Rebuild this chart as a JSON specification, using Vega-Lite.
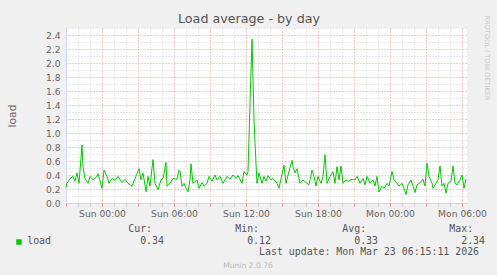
{
  "$schema": "https://vega.github.io/schema/vega-lite/v6.json",
  "width": 401,
  "height": 175,
  "autosize": {"type": "none"},
  "padding": {"left": 66, "top": 28, "right": 30, "bottom": 72},
  "background": "#F0F0F0",
  "title": {"text": "Munin 2.0.76", "orient": "bottom", "anchor": "middle", "frame": "group", "dx": -18.5, "offset": 6, "baseline": "top", "fontSize": 7.6, "font": "DejaVu Sans", "fontWeight": "normal", "color": "#BBBBBB"},
  "data": {"values": [
    {"t": "2026-03-21T21:00:00", "v": 0.22},
    {"t": "2026-03-21T21:05:00", "v": 0.28},
    {"t": "2026-03-21T21:20:00", "v": 0.35},
    {"t": "2026-03-21T21:35:00", "v": 0.38},
    {"t": "2026-03-21T21:45:00", "v": 0.31},
    {"t": "2026-03-21T21:55:00", "v": 0.43},
    {"t": "2026-03-21T22:05:00", "v": 0.28},
    {"t": "2026-03-21T22:20:00", "v": 0.83},
    {"t": "2026-03-21T22:25:00", "v": 0.52},
    {"t": "2026-03-21T22:35:00", "v": 0.35},
    {"t": "2026-03-21T22:50:00", "v": 0.28},
    {"t": "2026-03-21T23:00:00", "v": 0.38},
    {"t": "2026-03-21T23:15:00", "v": 0.33},
    {"t": "2026-03-21T23:35:00", "v": 0.38},
    {"t": "2026-03-21T23:40:00", "v": 0.42},
    {"t": "2026-03-22T00:00:00", "v": 0.21},
    {"t": "2026-03-22T00:10:00", "v": 0.47},
    {"t": "2026-03-22T00:25:00", "v": 0.38},
    {"t": "2026-03-22T00:35:00", "v": 0.28},
    {"t": "2026-03-22T00:50:00", "v": 0.35},
    {"t": "2026-03-22T01:05:00", "v": 0.32},
    {"t": "2026-03-22T01:20:00", "v": 0.38},
    {"t": "2026-03-22T01:40:00", "v": 0.29},
    {"t": "2026-03-22T01:55:00", "v": 0.34},
    {"t": "2026-03-22T02:10:00", "v": 0.28},
    {"t": "2026-03-22T02:30:00", "v": 0.24},
    {"t": "2026-03-22T02:45:00", "v": 0.35},
    {"t": "2026-03-22T02:55:00", "v": 0.42},
    {"t": "2026-03-22T03:05:00", "v": 0.49},
    {"t": "2026-03-22T03:15:00", "v": 0.33},
    {"t": "2026-03-22T03:25:00", "v": 0.43},
    {"t": "2026-03-22T03:40:00", "v": 0.16},
    {"t": "2026-03-22T03:50:00", "v": 0.38},
    {"t": "2026-03-22T04:00:00", "v": 0.24},
    {"t": "2026-03-22T04:15:00", "v": 0.62},
    {"t": "2026-03-22T04:25:00", "v": 0.28},
    {"t": "2026-03-22T04:40:00", "v": 0.19},
    {"t": "2026-03-22T04:55:00", "v": 0.33},
    {"t": "2026-03-22T05:05:00", "v": 0.35},
    {"t": "2026-03-22T05:20:00", "v": 0.58},
    {"t": "2026-03-22T05:25:00", "v": 0.24},
    {"t": "2026-03-22T05:40:00", "v": 0.28},
    {"t": "2026-03-22T05:55:00", "v": 0.35},
    {"t": "2026-03-22T06:15:00", "v": 0.34},
    {"t": "2026-03-22T06:25:00", "v": 0.47},
    {"t": "2026-03-22T06:30:00", "v": 0.45},
    {"t": "2026-03-22T06:40:00", "v": 0.24},
    {"t": "2026-03-22T06:50:00", "v": 0.28},
    {"t": "2026-03-22T07:00:00", "v": 0.21},
    {"t": "2026-03-22T07:10:00", "v": 0.16},
    {"t": "2026-03-22T07:20:00", "v": 0.33},
    {"t": "2026-03-22T07:25:00", "v": 0.56},
    {"t": "2026-03-22T07:35:00", "v": 0.28},
    {"t": "2026-03-22T07:55:00", "v": 0.33},
    {"t": "2026-03-22T08:05:00", "v": 0.21},
    {"t": "2026-03-22T08:20:00", "v": 0.29},
    {"t": "2026-03-22T08:30:00", "v": 0.24},
    {"t": "2026-03-22T08:45:00", "v": 0.28},
    {"t": "2026-03-22T08:55:00", "v": 0.38},
    {"t": "2026-03-22T09:10:00", "v": 0.31},
    {"t": "2026-03-22T09:25:00", "v": 0.40},
    {"t": "2026-03-22T09:35:00", "v": 0.33},
    {"t": "2026-03-22T09:50:00", "v": 0.38},
    {"t": "2026-03-22T10:05:00", "v": 0.28},
    {"t": "2026-03-22T10:25:00", "v": 0.38},
    {"t": "2026-03-22T10:40:00", "v": 0.34},
    {"t": "2026-03-22T10:55:00", "v": 0.40},
    {"t": "2026-03-22T11:10:00", "v": 0.35},
    {"t": "2026-03-22T11:20:00", "v": 0.39},
    {"t": "2026-03-22T11:40:00", "v": 0.28},
    {"t": "2026-03-22T11:50:00", "v": 0.45},
    {"t": "2026-03-22T12:05:00", "v": 0.40},
    {"t": "2026-03-22T12:10:00", "v": 0.45},
    {"t": "2026-03-22T12:20:00", "v": 1.42},
    {"t": "2026-03-22T12:30:00", "v": 2.34},
    {"t": "2026-03-22T12:40:00", "v": 1.19},
    {"t": "2026-03-22T12:50:00", "v": 0.56},
    {"t": "2026-03-22T12:55:00", "v": 0.28},
    {"t": "2026-03-22T13:05:00", "v": 0.43},
    {"t": "2026-03-22T13:20:00", "v": 0.28},
    {"t": "2026-03-22T13:30:00", "v": 0.38},
    {"t": "2026-03-22T13:40:00", "v": 0.31},
    {"t": "2026-03-22T13:50:00", "v": 0.39},
    {"t": "2026-03-22T14:05:00", "v": 0.33},
    {"t": "2026-03-22T14:15:00", "v": 0.35},
    {"t": "2026-03-22T14:35:00", "v": 0.28},
    {"t": "2026-03-22T14:45:00", "v": 0.21},
    {"t": "2026-03-22T14:50:00", "v": 0.28},
    {"t": "2026-03-22T15:10:00", "v": 0.54},
    {"t": "2026-03-22T15:20:00", "v": 0.28},
    {"t": "2026-03-22T15:30:00", "v": 0.40},
    {"t": "2026-03-22T15:50:00", "v": 0.61},
    {"t": "2026-03-22T15:55:00", "v": 0.52},
    {"t": "2026-03-22T16:05:00", "v": 0.43},
    {"t": "2026-03-22T16:15:00", "v": 0.49},
    {"t": "2026-03-22T16:30:00", "v": 0.28},
    {"t": "2026-03-22T16:45:00", "v": 0.33},
    {"t": "2026-03-22T17:05:00", "v": 0.28},
    {"t": "2026-03-22T17:15:00", "v": 0.26},
    {"t": "2026-03-22T17:30:00", "v": 0.47},
    {"t": "2026-03-22T17:40:00", "v": 0.38},
    {"t": "2026-03-22T17:50:00", "v": 0.24},
    {"t": "2026-03-22T18:00:00", "v": 0.38},
    {"t": "2026-03-22T18:15:00", "v": 0.28},
    {"t": "2026-03-22T18:25:00", "v": 0.38},
    {"t": "2026-03-22T18:35:00", "v": 0.69},
    {"t": "2026-03-22T18:45:00", "v": 0.28},
    {"t": "2026-03-22T19:00:00", "v": 0.38},
    {"t": "2026-03-22T19:15:00", "v": 0.45},
    {"t": "2026-03-22T19:25:00", "v": 0.28},
    {"t": "2026-03-22T19:35:00", "v": 0.52},
    {"t": "2026-03-22T19:45:00", "v": 0.33},
    {"t": "2026-03-22T19:55:00", "v": 0.53},
    {"t": "2026-03-22T20:05:00", "v": 0.28},
    {"t": "2026-03-22T20:20:00", "v": 0.33},
    {"t": "2026-03-22T20:30:00", "v": 0.31},
    {"t": "2026-03-22T20:50:00", "v": 0.34},
    {"t": "2026-03-22T21:05:00", "v": 0.33},
    {"t": "2026-03-22T21:15:00", "v": 0.38},
    {"t": "2026-03-22T21:30:00", "v": 0.28},
    {"t": "2026-03-22T21:45:00", "v": 0.35},
    {"t": "2026-03-22T21:55:00", "v": 0.26},
    {"t": "2026-03-22T22:05:00", "v": 0.38},
    {"t": "2026-03-22T22:20:00", "v": 0.28},
    {"t": "2026-03-22T22:35:00", "v": 0.33},
    {"t": "2026-03-22T22:45:00", "v": 0.24},
    {"t": "2026-03-22T22:55:00", "v": 0.38},
    {"t": "2026-03-22T23:05:00", "v": 0.16},
    {"t": "2026-03-22T23:20:00", "v": 0.24},
    {"t": "2026-03-22T23:30:00", "v": 0.21},
    {"t": "2026-03-22T23:45:00", "v": 0.28},
    {"t": "2026-03-22T23:55:00", "v": 0.24},
    {"t": "2026-03-23T00:10:00", "v": 0.45},
    {"t": "2026-03-23T00:20:00", "v": 0.33},
    {"t": "2026-03-23T00:35:00", "v": 0.28},
    {"t": "2026-03-23T00:45:00", "v": 0.24},
    {"t": "2026-03-23T01:00:00", "v": 0.28},
    {"t": "2026-03-23T01:10:00", "v": 0.21},
    {"t": "2026-03-23T01:20:00", "v": 0.12},
    {"t": "2026-03-23T01:30:00", "v": 0.26},
    {"t": "2026-03-23T01:45:00", "v": 0.33},
    {"t": "2026-03-23T01:55:00", "v": 0.24},
    {"t": "2026-03-23T02:05:00", "v": 0.15},
    {"t": "2026-03-23T02:15:00", "v": 0.26},
    {"t": "2026-03-23T02:30:00", "v": 0.29},
    {"t": "2026-03-23T02:45:00", "v": 0.34},
    {"t": "2026-03-23T02:55:00", "v": 0.24},
    {"t": "2026-03-23T03:05:00", "v": 0.57},
    {"t": "2026-03-23T03:15:00", "v": 0.38},
    {"t": "2026-03-23T03:30:00", "v": 0.28},
    {"t": "2026-03-23T03:35:00", "v": 0.21},
    {"t": "2026-03-23T03:50:00", "v": 0.28},
    {"t": "2026-03-23T04:00:00", "v": 0.33},
    {"t": "2026-03-23T04:10:00", "v": 0.53},
    {"t": "2026-03-23T04:20:00", "v": 0.24},
    {"t": "2026-03-23T04:30:00", "v": 0.28},
    {"t": "2026-03-23T04:40:00", "v": 0.14},
    {"t": "2026-03-23T04:50:00", "v": 0.28},
    {"t": "2026-03-23T05:05:00", "v": 0.31},
    {"t": "2026-03-23T05:15:00", "v": 0.53},
    {"t": "2026-03-23T05:25:00", "v": 0.28},
    {"t": "2026-03-23T05:35:00", "v": 0.26},
    {"t": "2026-03-23T05:50:00", "v": 0.33},
    {"t": "2026-03-23T06:00:00", "v": 0.40},
    {"t": "2026-03-23T06:10:00", "v": 0.21},
    {"t": "2026-03-23T06:20:00", "v": 0.34}
  ]},
  "layer": [
    {
      "mark": {"type": "line", "strokeWidth": 1},
      "encoding": {
        "x": {
          "field": "t", "type": "temporal",
          "scale": {"domain": [{"year": 2026, "month": 3, "date": 21, "hours": 21, "minutes": 0}, {"year": 2026, "month": 3, "date": 23, "hours": 6, "minutes": 25}]},
          "axis": {
            "orient": "bottom",
            "tickCount": 30,
            "labelExpr": "hours(datum.value) % 6 == 0 ? timeFormat(datum.value, '%a %H:%M') : ''",
            "labelOverlap": false,
            "labelFlush": false,
            "labelFont": "DejaVu Sans",
            "labelFontSize": 9.2,
            "labelColor": "#666666",
            "labelPadding": 3,
            "tickSize": 3,
            "tickColor": {"condition": {"test": "hours(datum.value) % 3 == 0", "value": "#E89090"}, "value": "#CCCCCC"},
            "grid": true,
            "gridColor": {"condition": {"test": "hours(datum.value) % 3 == 0", "value": "#E99A9A"}, "value": "#D4D4D4"},
            "gridDash": [1, 2],
            "gridWidth": 1,
            "domainColor": "#CFD6F8",
            "domainWidth": 1,
            "title": [
              "\u200b\u00a0\u00a0\u00a0\u00a0\u00a0\u00a0\u00a0\u00a0\u00a0\u00a0\u00a0\u00a0\u00a0\u00a0\u00a0\u00a0\u00a0Cur:\u00a0\u00a0\u00a0\u00a0\u00a0\u00a0\u00a0\u00a0\u00a0\u00a0\u00a0\u00a0\u00a0\u00a0Min:\u00a0\u00a0\u00a0\u00a0\u00a0\u00a0\u00a0\u00a0\u00a0\u00a0\u00a0\u00a0\u00a0\u00a0Avg:\u00a0\u00a0\u00a0\u00a0\u00a0\u00a0\u00a0\u00a0\u00a0\u00a0\u00a0\u00a0\u00a0\u00a0Max:",
              "\u200bload\u00a0\u00a0\u00a0\u00a0\u00a0\u00a0\u00a0\u00a0\u00a0\u00a0\u00a0\u00a0\u00a0\u00a0\u00a00.34\u00a0\u00a0\u00a0\u00a0\u00a0\u00a0\u00a0\u00a0\u00a0\u00a0\u00a0\u00a0\u00a0\u00a00.12\u00a0\u00a0\u00a0\u00a0\u00a0\u00a0\u00a0\u00a0\u00a0\u00a0\u00a0\u00a0\u00a0\u00a00.33\u00a0\u00a0\u00a0\u00a0\u00a0\u00a0\u00a0\u00a0\u00a0\u00a0\u00a0\u00a0\u00a0\u00a02.34",
              "\u200b\u00a0\u00a0\u00a0\u00a0\u00a0\u00a0\u00a0\u00a0\u00a0\u00a0\u00a0\u00a0\u00a0\u00a0\u00a0\u00a0\u00a0\u00a0\u00a0\u00a0\u00a0\u00a0\u00a0\u00a0\u00a0\u00a0\u00a0\u00a0\u00a0\u00a0\u00a0\u00a0\u00a0\u00a0\u00a0\u00a0\u00a0\u00a0\u00a0Last update: Mon Mar 23 06:15:11 2026"
            ],
            "titleFont": "DejaVu Sans Mono",
            "titleFontSize": 9.9,
            "titleFontWeight": "normal",
            "titleColor": "#555555",
            "titleAlign": "left",
            "titleBaseline": "alphabetic",
            "titleX": -39.3,
            "titleY": 28.5,
            "titleLineHeight": 11.5
          }
        },
        "y": {
          "field": "v", "type": "quantitative",
          "scale": {"domain": [0, 2.5], "nice": false},
          "axis": {
            "orient": "left",
            "values": [0, 0.1, 0.2, 0.3, 0.4, 0.5, 0.6, 0.7, 0.8, 0.9, 1.0, 1.1, 1.2, 1.3, 1.4, 1.5, 1.6, 1.7, 1.8, 1.9, 2.0, 2.1, 2.2, 2.3, 2.4, 2.5],
            "labelExpr": "round(datum.value * 10) % 2 == 0 ? format(datum.value, '.1f') : ''",
            "labelOverlap": false,
            "labelFont": "DejaVu Sans",
            "labelFontSize": 9.2,
            "labelColor": "#666666",
            "labelPadding": 6,
            "ticks": false,
            "grid": true,
            "gridColor": {"condition": {"test": "round(datum.value * 10) % 2 == 0", "value": "#E99A9A"}, "value": "#D4D4D4"},
            "gridDash": [1, 2],
            "gridWidth": 1,
            "domainColor": "#CFD6F8",
            "title": "load",
            "titleFont": "DejaVu Sans",
            "titleFontSize": 10.7,
            "titleFontWeight": "normal",
            "titleColor": "#666666",
            "titleAngle": -90,
            "titleAlign": "center",
            "titleBaseline": "alphabetic",
            "titleX": -51,
            "titleY": 87.5
          }
        },
        "color": {
          "datum": "load",
          "scale": {"range": ["#00CC00"]},
          "legend": {
            "orient": "none",
            "legendX": -52,
            "legendY": 209,
            "title": null,
            "labelExpr": "''",
            "symbolType": "square",
            "symbolSize": 30,
            "padding": 0,
            "encode": {"symbols": {"update": {"fill": {"value": "#00CC00"}, "stroke": {"value": "#00CC00"}, "strokeWidth": {"value": 0}}}}
          }
        }
      }
    },
    {
      "mark": {"type": "line", "strokeOpacity": 0},
      "encoding": {
        "x": {
          "field": "t", "type": "temporal",
          "axis": {
            "orient": "top",
            "labels": false, "ticks": false, "domain": false, "grid": false,
            "title": "Load average - by day",
            "titleFont": "DejaVu Sans",
            "titleFontSize": 12.7,
            "titleFontWeight": "normal",
            "titleColor": "#555555",
            "titleAlign": "center",
            "titleBaseline": "alphabetic",
            "titleX": 182.5,
            "titleY": -5.3
          }
        },
        "y": {
          "field": "v", "type": "quantitative",
          "axis": {
            "orient": "right",
            "labels": false, "ticks": false, "domain": false, "grid": false,
            "title": "RRDTOOL / TOBI OETIKER",
            "titleFont": "DejaVu Sans",
            "titleFontSize": 6.6,
            "titleFontWeight": "normal",
            "titleColor": "#C8C8C8",
            "titleAngle": 90,
            "titleAlign": "left",
            "titleBaseline": "middle",
            "titleX": 19.5,
            "titleY": -13
          }
        }
      }
    }
  ],
  "resolve": {"axis": {"x": "independent", "y": "independent"}},
  "config": {
    "view": {"fill": "#FFFFFF", "stroke": null},
    "font": "DejaVu Sans"
  }
}
